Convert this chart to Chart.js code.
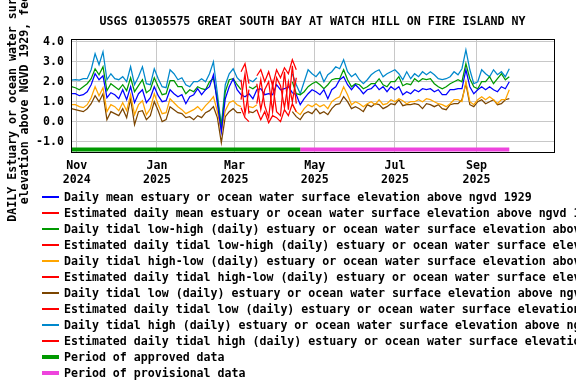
<!DOCTYPE html>
<html><head><meta charset="utf-8">
<script src="https://cdn.jsdelivr.net/npm/chart.js@4/dist/chart.umd.min.js"></script>
<style>
html,body{margin:0;padding:0;background:#fff;}
#wrap{position:relative;width:576px;height:384px;overflow:hidden;}
#c{position:absolute;left:0;top:0;}
#legend{position:absolute;left:0;top:189px;width:576px;font:bold 11.6px 'DejaVu Sans Mono',monospace;color:#000;}
.row{position:relative;height:16px;line-height:16px;white-space:pre;}
.sw{position:absolute;left:42px;width:17px;display:block;}
.tx{position:absolute;left:64px;top:0;}
</style></head><body>
<div id="wrap"><canvas id="c" width="576" height="384"></canvas><div id="legend"></div></div>
<script>
// ---- data (days counted from 1 Nov 2024) ----
const startDay = -4;      // first daily reading: 28 Oct 2024
const stepDays = 3;
const estStartDay = 125;  // first estimated reading

const tickDays   = [0, 61, 120, 181, 242, 304];
const tickMonths = ['Nov', 'Jan', 'Mar', 'May', 'Jul', 'Sep'];
const tickYears  = ['2024', '2025', '2025', '2025', '2025', '2025'];
const yTickValues = [-1, 0, 1, 2, 3, 4];

const approvedPeriod    = [-4, 170];
const provisionalPeriod = [170, 329];

const dailyMean = [
 1.40,1.40,1.30,1.35,1.50,1.85,2.40,2.10,2.30,1.20,
 1.45,1.35,1.15,1.60,1.10,1.75,0.95,1.40,1.60,0.95,
 1.20,1.75,1.30,1.00,1.05,1.60,1.40,1.25,1.35,0.90,
 1.25,1.35,1.65,1.35,1.60,1.75,2.35,0.90,-0.50,1.15,
 1.75,2.15,1.60,1.35,1.25,1.40,1.15,1.60,1.65,1.35,
 1.40,1.35,1.85,1.60,1.65,1.75,1.45,1.35,0.85,1.15,
 1.40,1.60,1.50,1.35,1.60,1.15,1.60,1.75,2.10,2.25,
 1.85,1.60,1.85,1.65,1.40,1.60,1.65,1.85,1.60,1.75,
 1.50,1.75,1.60,1.75,1.35,1.50,1.40,1.60,1.50,1.65,
 1.60,1.65,1.50,1.60,1.35,1.35,1.60,1.60,1.65,1.65,
 2.60,1.75,1.40,1.60,1.75,1.60,1.75,1.60,1.50,1.75,
 1.65,2.00];

const tidalLowHigh = [
 1.75,1.70,1.60,1.75,1.90,2.15,2.65,2.35,2.75,1.55,
 1.90,1.75,1.60,1.85,1.55,2.20,1.50,1.80,2.10,1.45,
 1.60,2.20,1.75,1.35,1.40,2.05,2.05,1.75,1.75,1.40,
 1.60,1.50,1.75,1.65,1.60,2.00,2.15,1.10,-0.25,1.50,
 2.10,2.15,1.85,1.60,null,1.75,1.65,1.80,null,null,
 null,null,null,null,null,null,2.00,1.40,1.35,1.50,
 1.75,1.90,2.00,1.85,1.65,1.85,2.10,2.15,2.15,2.60,
 2.10,1.75,1.90,1.85,1.65,1.75,1.90,1.90,2.15,1.85,
 1.75,2.00,2.00,2.25,1.80,1.90,1.85,2.15,2.00,2.15,
 2.10,2.15,1.90,1.75,1.65,1.75,1.90,2.00,2.10,2.00,
 2.90,2.15,1.75,1.65,2.00,2.00,2.25,1.90,2.15,2.40,
 2.10,2.25];

const tidalHighLow = [
 0.85,0.85,0.75,0.70,0.85,1.20,1.75,1.30,1.70,0.50,
 0.85,0.75,0.55,0.95,0.55,1.35,0.35,0.85,1.05,0.35,
 0.65,1.40,0.85,0.40,0.45,1.15,0.95,0.75,0.60,0.40,
 0.50,0.60,0.75,0.55,0.80,1.00,1.25,0.50,-0.50,0.55,
 0.95,1.05,0.85,0.75,null,0.75,0.70,0.85,null,null,
 null,null,null,null,null,null,0.85,0.50,0.35,0.65,
 0.85,0.75,0.90,0.75,0.85,0.65,1.00,1.15,1.25,1.75,
 1.35,0.85,1.00,0.90,0.75,0.90,1.00,0.85,1.10,0.85,
 0.90,1.10,1.00,1.15,1.05,0.90,1.00,1.00,1.10,1.00,
 1.15,1.10,1.00,0.90,0.85,0.75,0.90,1.10,1.10,1.00,
 2.00,1.00,0.85,1.10,1.25,1.10,1.25,1.10,0.90,1.10,
 1.10,1.60];

const tidalLow = [
 0.65,0.60,0.55,0.50,0.65,0.90,1.30,1.00,1.40,0.10,
 0.50,0.40,0.30,0.65,0.20,1.15,-0.15,0.50,0.55,0.10,
 0.30,1.00,0.55,0.00,0.10,0.75,0.60,0.45,0.40,0.20,
 0.25,0.10,0.30,0.20,0.45,0.55,0.75,0.20,-1.05,0.25,
 0.50,0.65,0.45,0.45,null,0.50,0.45,0.60,null,null,
 null,null,null,null,null,null,0.50,0.25,0.10,0.40,
 0.50,0.40,0.65,0.40,0.50,0.35,0.65,0.85,0.90,1.25,
 1.00,0.65,0.75,0.65,0.50,0.85,0.75,0.90,0.85,0.65,
 0.75,0.90,0.85,1.10,0.80,0.85,0.85,0.90,0.85,0.65,
 0.90,0.85,0.75,0.85,0.65,0.60,0.85,0.90,0.90,1.10,
 1.90,0.85,0.75,1.00,1.10,0.90,1.00,1.10,0.85,0.90,
 1.10,1.15];

const tidalHigh = [
 2.08,2.10,2.08,2.15,2.15,2.60,3.40,2.85,3.50,2.10,
 2.40,2.15,2.10,2.25,2.00,2.75,1.85,2.25,2.75,1.90,
 1.85,2.65,2.15,1.75,1.70,2.60,2.40,2.10,2.20,1.85,
 1.75,2.00,2.00,2.15,2.00,2.40,3.00,1.40,-0.20,1.85,
 2.40,2.65,2.20,2.00,null,2.10,2.00,2.20,null,null,
 null,null,null,null,null,null,2.40,1.85,1.40,2.00,
 2.60,2.40,2.25,2.50,2.00,2.35,2.50,2.75,2.65,3.10,
 2.50,2.25,2.40,2.10,1.90,2.10,2.35,2.50,2.60,2.25,
 2.40,2.50,2.60,2.40,2.10,2.50,2.15,2.40,2.25,2.50,
 2.35,2.50,2.35,2.15,2.10,2.15,2.25,2.50,2.35,2.65,
 3.60,2.60,1.90,2.00,2.60,2.40,2.25,2.60,2.35,2.50,
 2.25,2.65];

const estMean     = [];
const estLowHigh  = [2.10,0.40,1.60,null,1.90,0.60,1.60,2.00,0.50,2.20,1.80,0.70,2.00,1.00,2.20];
const estHighLow  = [1.10,2.40,0.40,null,0.90,2.10,0.80,0.20,1.90,0.50,0.30,2.50,0.60,2.80,0.90];
const estLow      = [0.70,0.20,0.00,null,0.60,0.10,0.50,-0.05,0.30,0.20,0.00,0.60,0.30,0.90,0.50];
const estHigh     = [2.50,2.90,1.90,null,2.30,2.60,2.00,2.50,1.80,2.60,2.20,2.70,2.40,3.10,2.60];

// ---- chart ----
const FONT = "'DejaVu Sans Mono', monospace";
const BAR_LEVEL = -1.39;
const pts = (arr, start) => arr.map((v, i) => ({x: start + i * stepDays, y: v}));
const tail = ' estuary or ocean water surface elevation above ngvd 1929';

const datasets = [
  {label: 'Daily mean' + tail, data: pts(dailyMean, startDay), borderColor: '#0000ff'},
  {label: 'Estimated daily mean' + tail, data: pts(estMean, estStartDay), borderColor: '#ff0000', order: -1},
  {label: 'Daily tidal low-high (daily)' + tail, data: pts(tidalLowHigh, startDay), borderColor: '#009900'},
  {label: 'Estimated daily tidal low-high (daily)' + tail, data: pts(estLowHigh, estStartDay), borderColor: '#ff0000', order: -1},
  {label: 'Daily tidal high-low (daily)' + tail, data: pts(tidalHighLow, startDay), borderColor: '#ffa500'},
  {label: 'Estimated daily tidal high-low (daily)' + tail, data: pts(estHighLow, estStartDay), borderColor: '#ff0000', order: -1},
  {label: 'Daily tidal low (daily)' + tail, data: pts(tidalLow, startDay), borderColor: '#7b4500'},
  {label: 'Estimated daily tidal low (daily)' + tail, data: pts(estLow, estStartDay), borderColor: '#ff0000', order: -1},
  {label: 'Daily tidal high (daily)' + tail, data: pts(tidalHigh, startDay), borderColor: '#0088cc'},
  {label: 'Estimated daily tidal high (daily)' + tail, data: pts(estHigh, estStartDay), borderColor: '#ff0000', order: -1},
  {label: 'Period of approved data', data: approvedPeriod.map(d => ({x: d, y: BAR_LEVEL})), borderColor: '#009900', borderWidth: 4, swatch: 4},
  {label: 'Period of provisional data', data: provisionalPeriod.map(d => ({x: d, y: BAR_LEVEL})), borderColor: '#ee44dd', borderWidth: 4, swatch: 4}
];
datasets.forEach(d => {
  d.borderWidth = d.borderWidth || 1.25;
  d.pointRadius = 0; d.pointHoverRadius = 0;
  d.fill = false; d.tension = 0; d.spanGaps = false;
  d.borderCapStyle = 'butt';
});

const framePlugin = {
  id: 'frame',
  afterDatasetsDraw(chart) {
    const {ctx, chartArea: a} = chart;
    ctx.save();
    ctx.strokeStyle = '#000'; ctx.lineWidth = 1;
    ctx.strokeRect(a.left + 0.5, a.top - 0.5, a.right - a.left, a.bottom - a.top + 1);
    ctx.restore();
  }
};

new Chart(document.getElementById('c'), {
  type: 'line',
  data: {datasets},
  plugins: [framePlugin],
  options: {
    responsive: false, animation: false, devicePixelRatio: 1,
    layout: {padding: {left: 0, right: 22, top: 0, bottom: 197}},
    plugins: {
      legend: {display: false},
      tooltip: {enabled: false},
      title: {
        display: true, fullSize: false,
        text: 'USGS 01305575 GREAT SOUTH BAY AT WATCH HILL ON FIRE ISLAND NY',
        color: '#000',
        font: {family: FONT, size: 11.6, weight: 'bold', lineHeight: '14px'},
        padding: {top: 15, bottom: 11}
      }
    },
    scales: {
      x: {
        type: 'linear', min: -4.33, max: 363,
        afterBuildTicks: s => { s.ticks = tickDays.map(v => ({value: v})); },
        afterFit: s => { s.height = 35; },
        ticks: {
          autoSkip: false, maxRotation: 0, minRotation: 0, padding: 7, color: '#000',
          font: {family: FONT, size: 11.6, weight: 'bold', lineHeight: '14px'},
          callback: v => { const k = tickDays.indexOf(v); return k < 0 ? '' : [tickMonths[k], tickYears[k]]; }
        },
        grid: {color: '#c8c8c8', drawTicks: false, lineWidth: 1},
        border: {display: false}
      },
      y: {
        type: 'linear', min: -1.52, max: 4.09,
        afterBuildTicks: s => { s.ticks = yTickValues.map(v => ({value: v})); },
        afterFit: s => { s.width = 71; },
        ticks: {
          padding: 7, color: '#000',
          font: {family: FONT, size: 11.6, weight: 'bold'},
          callback: v => Number(v).toFixed(1)
        },
        grid: {color: '#c8c8c8', drawTicks: false, lineWidth: 1},
        border: {display: false},
        title: {
          display: true, color: '#000',
          text: ['DAILY Estuary or ocean water surface', 'elevation above NGVD 1929, feet'],
          font: {family: FONT, size: 11.6, weight: 'bold', lineHeight: '12px'},
          padding: {top: 7, bottom: 0}
        }
      }
    }
  }
});

// ---- legend (HTML, one entry per row) ----
const legendEl = document.getElementById('legend');
datasets.forEach(ds => {
  const h = ds.swatch || 2;
  const row = document.createElement('div'); row.className = 'row';
  const sw = document.createElement('span'); sw.className = 'sw';
  sw.style.height = h + 'px';
  sw.style.top = (8 - Math.floor(h / 2)) + 'px';
  sw.style.backgroundColor = ds.borderColor;
  const t = document.createElement('span'); t.className = 'tx'; t.textContent = ds.label;
  row.append(sw, t); legendEl.append(row);
});
</script></body></html>
